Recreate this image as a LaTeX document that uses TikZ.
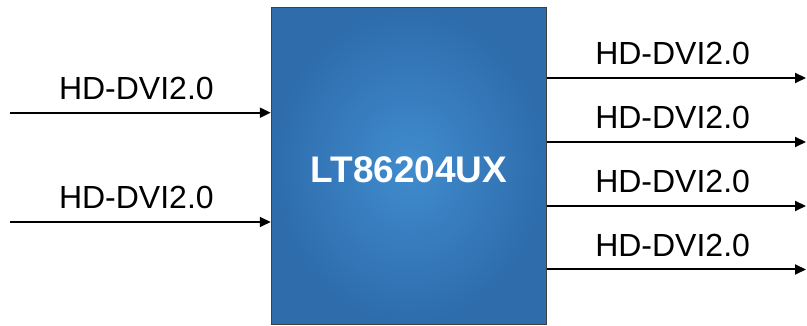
\documentclass[tikz,border=0pt]{standalone}
\usepackage{fontspec}
\setmainfont{Liberation Sans}
\usepackage{tikz}
\usetikzlibrary{arrows.meta,positioning}
\definecolor{chipin}{RGB}{64,140,206}
\definecolor{chipout}{RGB}{46,108,172}
\definecolor{chipedge}{RGB}{64,64,64}

\begin{document}
\begin{tikzpicture}[x=1pt,y=1pt,
	sig/.style={-{Triangle[length=11pt,width=10pt]},line width=2pt},
	sigtext/.style={above=12pt,inner sep=0pt,xshift=-4pt,font=\fontsize{32}{36}\selectfont}]
	\useasboundingbox (0,0) rectangle (807,326);
	
	%chip
	\node[draw=chipedge,line width=1.5pt,inner color=chipin,outer color=chipout,
		minimum width=275pt,minimum height=317pt,text height=34pt,text depth=0pt,
		text=white,font=\fontsize{37}{40}\selectfont\bfseries] (chip) at (409,160) {LT86204UX};
	
	%inputs
	\coordinate (in1) at (10,213.3);
	\coordinate (in2) at (10,104);
	\draw[sig] (in1) -- node[sigtext] {HD-DVI2.0} (in1 -| chip.west);
	\draw[sig] (in2) -- node[sigtext] {HD-DVI2.0} (in2 -| chip.west);
	
	%outputs
	\foreach \y [count=\i] in {248,184,120,56.5}{
		\coordinate (out\i) at (806,\y);
		\draw[sig] (out\i -| chip.east) -- node[sigtext] {HD-DVI2.0} (out\i);
	}
\end{tikzpicture}
\end{document}
